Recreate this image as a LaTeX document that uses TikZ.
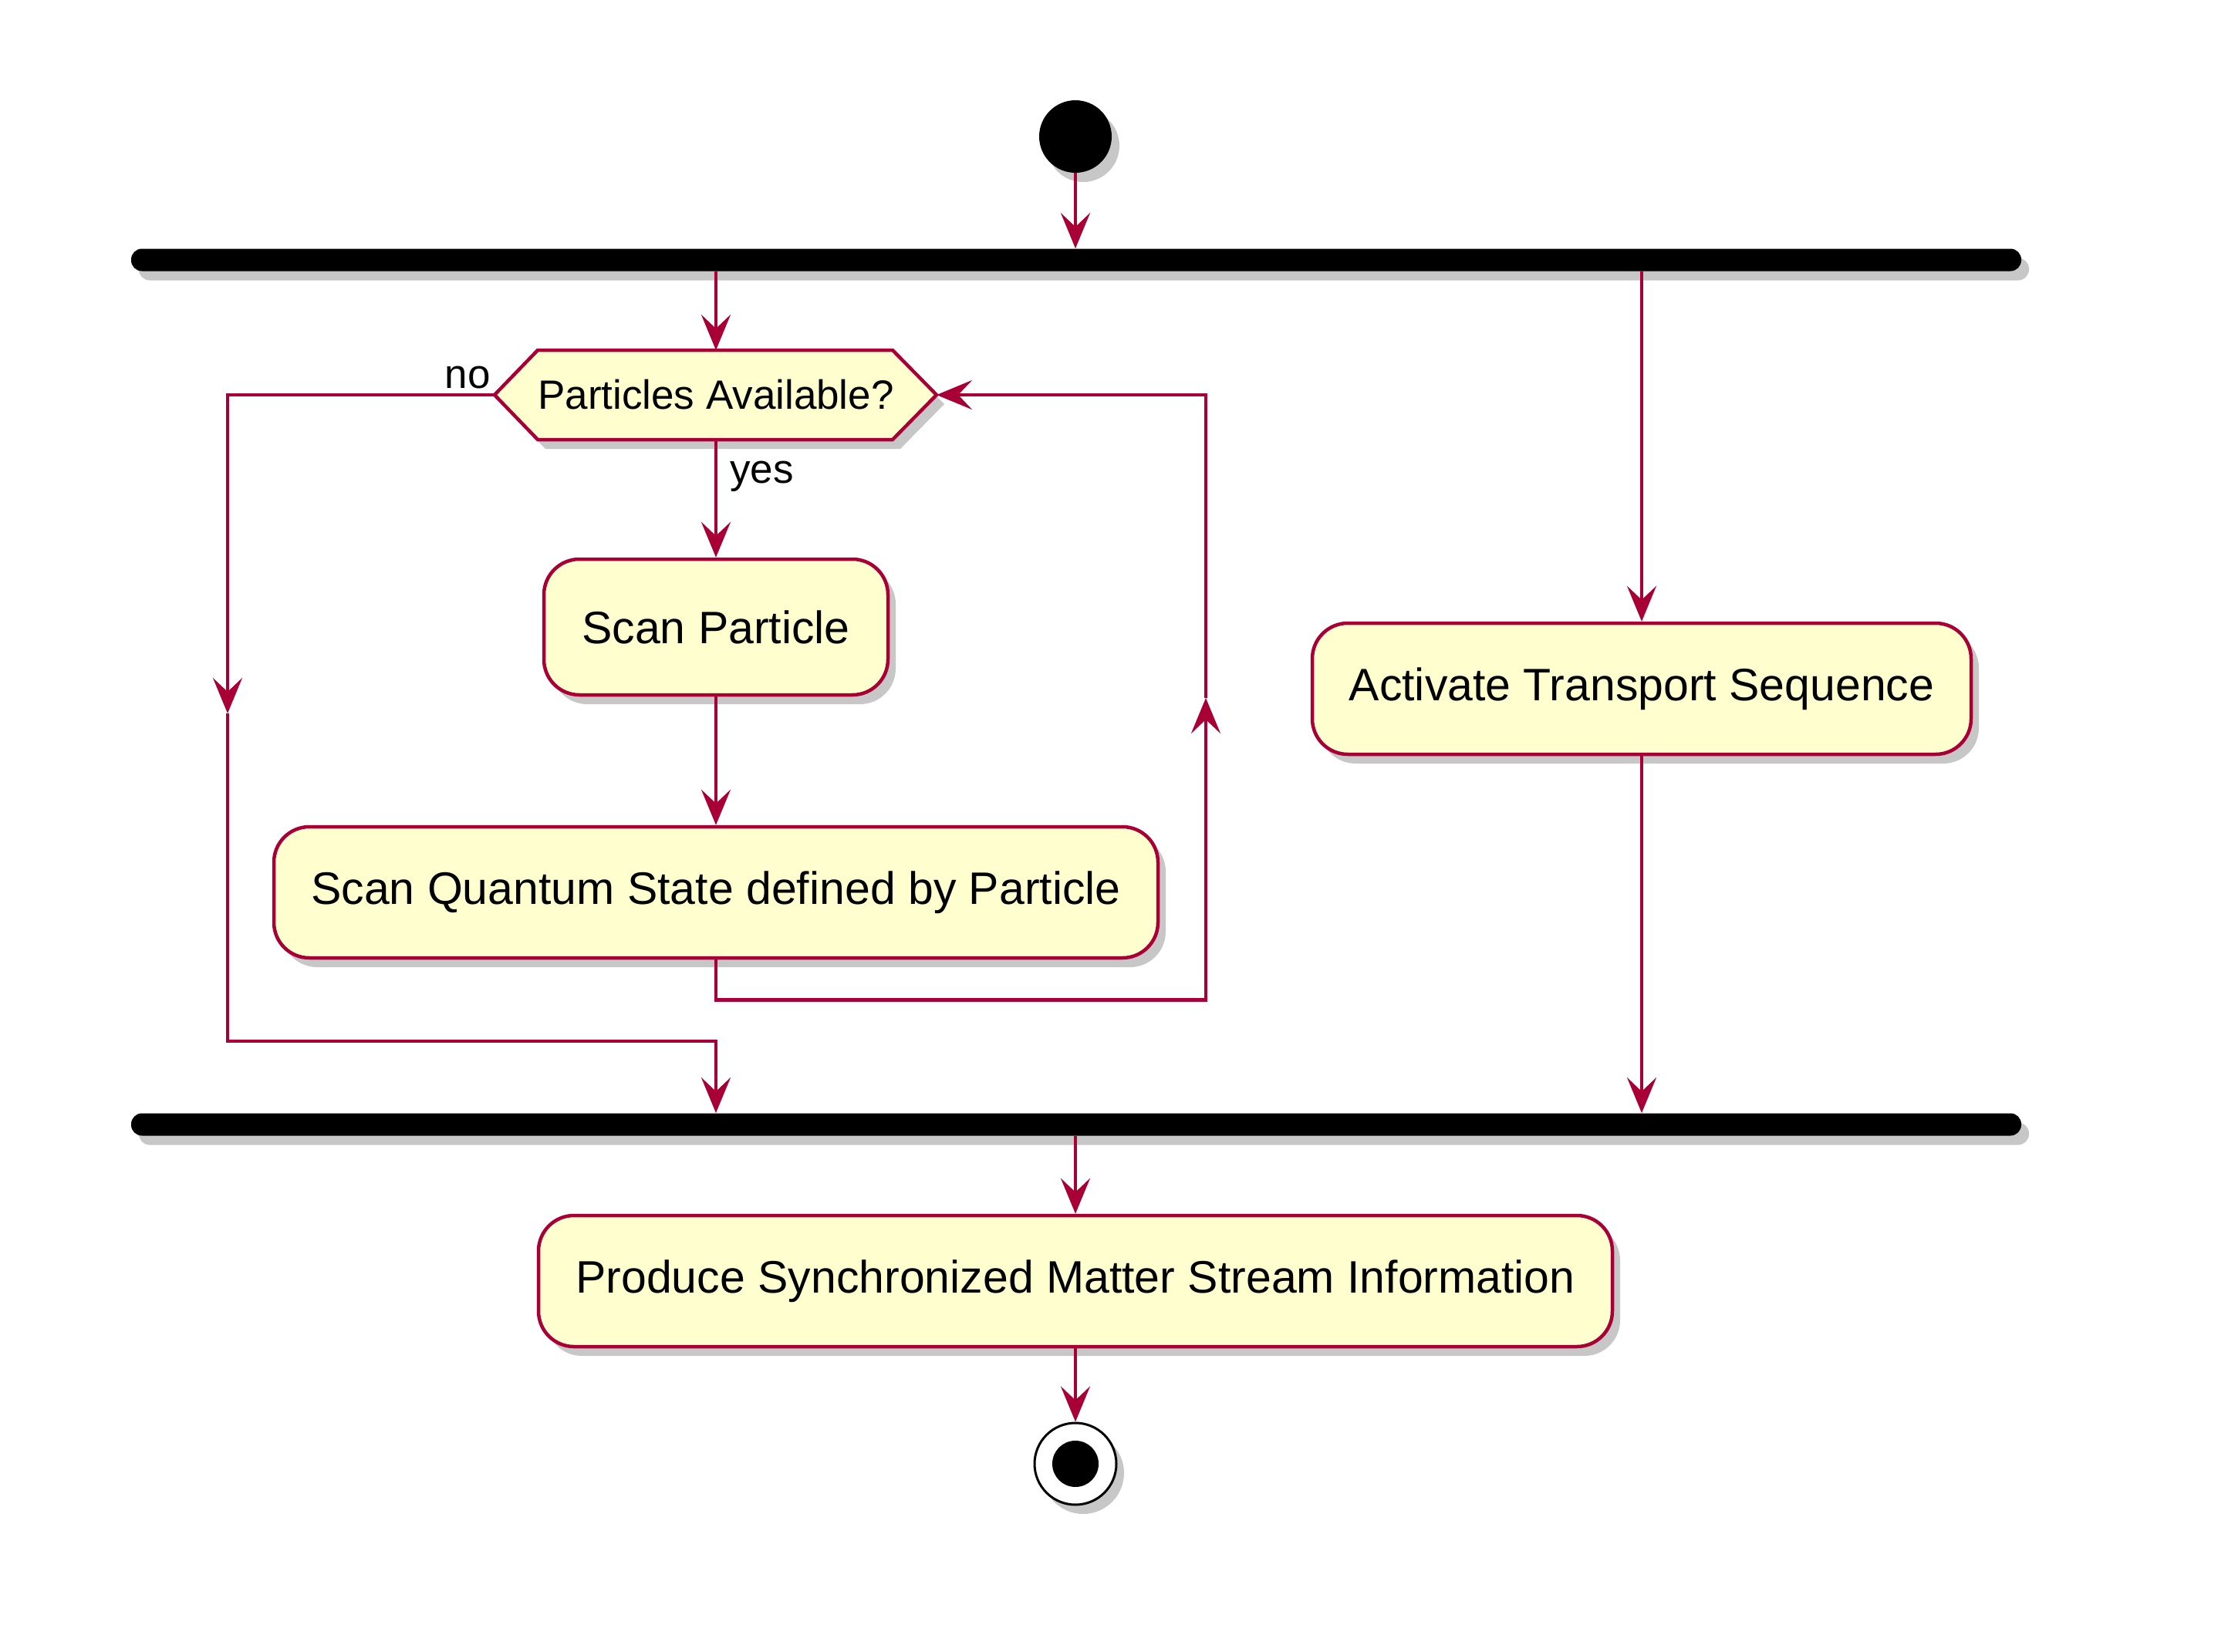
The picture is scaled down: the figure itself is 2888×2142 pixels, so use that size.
\documentclass[tikz,border=0pt]{standalone}
\usepackage{fontspec}
\setmainfont{Liberation Sans}
\usetikzlibrary{arrows.meta,shadows}
\definecolor{pred}{HTML}{A80036}
\definecolor{pfill}{HTML}{FEFECE}
\begin{document}
\begin{tikzpicture}[x=0.5pt,y=-0.5pt,
  >={Stealth[length=23pt,width=19pt,inset=9pt]},
  flow/.style={draw=pred, line width=2.25pt, ->},
  pshadow/.style={drop shadow={shadow xshift=5pt, shadow yshift=-6pt, fill=black, opacity=0.22}},
  actbox/.style={draw=pred, fill=pfill, line width=2.25pt, rounded corners=23pt, inner sep=0pt,
    minimum height=85pt, font=\fontsize{29.5}{34}\selectfont, pshadow},
  barnode/.style={fill=black, rounded corners=7pt, minimum height=14.5pt, minimum width=1225pt, inner sep=0pt, pshadow},
  dectext/.style={inner sep=0pt, font=\fontsize{26.5}{30}\selectfont},
  lbl/.style={inner sep=0pt, font=\fontsize{26.5}{30}\selectfont},
  decshape/.style={draw=pred, fill=pfill, line width=2.25pt, pshadow}
]
\useasboundingbox (0,0) rectangle (2888,2142);

% start
\node[circle, fill=black, minimum size=47pt, inner sep=0pt, pshadow] (start) at (1394,177) {};
% bars
\node[barnode] (fork) at (1395,337) {};
\node[barnode] (join) at (1395,1458) {};

% decision
\coordinate (decW) at (641,512);
\coordinate (decE) at (1214,512);
\coordinate (decN) at (928,454);
\coordinate (decS) at (928,570);
\path[decshape] (decW) -- (697,454) -- (1157,454) -- (decE) -- (1157,570) -- (697,570) -- cycle;
\node[dectext] (dec) at (928,512) {Particles Available?};

% actions
\node[actbox, minimum width=223pt, minimum height=88pt] (sp) at (928,813) {Scan Particle};
\node[actbox, minimum width=573pt] (sq) at (928,1157) {Scan Quantum State defined by Particle};
\node[actbox, minimum width=427pt] (act) at (2128,893) {Activate Transport Sequence};
\node[actbox, minimum width=696pt] (prod) at (1394,1661) {Produce Synchronized Matter Stream Information};

% end
\node[circle, draw=black, fill=white, line width=1.5pt, minimum size=53pt, inner sep=0pt, pshadow] (end) at (1394,1898) {};
\node[circle, fill=black, minimum size=30pt, inner sep=0pt] (endin) at (end.center) {};

% helper coordinates
\coordinate (nomid) at (295,925);
\coordinate (nocorner) at (928,1350);
\coordinate (loopmid) at (1563,905);

% connectors
\draw[flow] (start.south) -- (fork.north -| start.south);
\draw[flow] (fork.south -| decN) -- (decN);
\draw[flow] (decS) -- (sp.north);
\draw[flow] (sp.south) -- (sq.north);
\draw[flow] (sq.south) -- ++(0,52) -| (loopmid);
\draw[flow] (loopmid) |- (decE);
\draw[flow] (decW) -| (nomid);
\draw[flow] (nomid) |- (nocorner) -- (join.north -| nocorner);
\draw[flow] (fork.south -| act.north) -- (act.north);
\draw[flow] (act.south) -- (join.north -| act.south);
\draw[flow] (join.south -| prod.north) -- (prod.north);
\draw[flow] (prod.south) -- (end.north);

% labels
\node[lbl, anchor=base east] (nolbl) at ([shift={(-5,-9)}]decW) {no};
\node[lbl, anchor=base west] (yeslbl) at ([shift={(18,56)}]decS) {yes};
\end{tikzpicture}
\end{document}
